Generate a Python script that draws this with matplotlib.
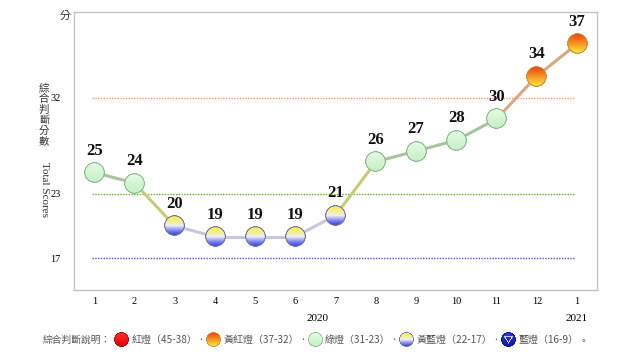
import numpy as np
import matplotlib.pyplot as plt
from matplotlib.offsetbox import OffsetImage, AnnotationBbox

plt.rcParams['font.family'] = ['Liberation Serif', 'Noto Sans CJK TC', 'DejaVu Sans']

# data
months = ['1', '2', '3', '4', '5', '6', '7', '8', '9', '10', '11', '12', '1']
scores = [25, 24, 20, 19, 19, 19, 21, 26, 27, 28, 30, 34, 37]
ref_lines = [(32, '#f0a070'), (23, '#60b040'), (17, '#5050d0')]
yticks = [17, 23, 32]
legend_labels = ['紅燈（45-38）', '黃紅燈（37-32）', '綠燈（31-23）', '黃藍燈（22-17）', '藍燈（16-9）']
legend_kinds = ['red', 'orange', 'green', 'yb', 'blue']


def light(v):
    if v >= 38:
        return 'red'
    if v >= 32:
        return 'orange'
    if v >= 23:
        return 'green'
    if v >= 17:
        return 'yb'
    return 'blue'


seg_color = {
    ('green', 'green'): '#a8c49c',
    ('green', 'yb'): '#c8cc70',
    ('yb', 'green'): '#c8cc70',
    ('yb', 'yb'): '#c8c8dc',
    ('green', 'orange'): '#d8a880',
    ('orange', 'orange'): '#d8a880',
}

# gradient stops (top -> bottom) and edge colour per light
grad = {
    'green': ([(0, '#e6fbe6'), (1, '#c4eec4')], '#8cbc8c'),
    'yb': ([(0, '#f6f040'), (0.3, '#f4f090'), (0.5, '#eeeef4'), (0.72, '#8890f0'), (1, '#2030d8')], '#7878a8'),
    'orange': ([(0, '#e83c10'), (0.45, '#f88c20'), (1, '#fff040')], '#c89040'),
    'red': ([(0, '#ff3030'), (1, '#e00000')], '#b80000'),
    'blue': ([(0, '#3040e0'), (1, '#0a14a8')], '#081070'),
}


def hex_rgb(h):
    return np.array([int(h[i:i + 2], 16) / 255 for i in (1, 3, 5)])


def light_image(kind, n=64):
    stops, edge = grad[kind]
    u, v = np.meshgrid(np.linspace(-1, 1, n), np.linspace(-1, 1, n))
    d = np.sqrt(u ** 2 + v ** 2)
    t = (v + 1) / 2
    pos = [s[0] for s in stops]
    cols = np.array([hex_rgb(s[1]) for s in stops])
    rgb = np.stack([np.interp(t, pos, cols[:, k]) for k in range(3)], axis=-1)
    ring = np.clip((d - 0.86) / 0.06, 0, 1)[..., None]
    rgb = rgb * (1 - ring) + hex_rgb(edge) * ring
    if kind == 'blue':
        # white outlined down-triangle
        top, bot = -0.42, 0.55
        half = (bot - v) / (bot - top) * 0.62
        inside_outer = (v >= top) & (v <= bot) & (np.abs(u) <= half)
        half_in = (bot - 0.2 - v) / (bot - 0.2 - top - 0.1) * 0.42
        inside_inner = (v >= top + 0.1) & (v <= bot - 0.2) & (np.abs(u) <= half_in)
        rgb[inside_outer & ~inside_inner] = 1.0
    alpha = np.clip((1 - d) * n / 2 + 0.5, 0, 1)
    return np.dstack([rgb, alpha])


images = {k: light_image(k) for k in grad}


def draw_light(ax, x, y, kind, size_px=21, zorder=5):
    img = images[kind]
    oi = OffsetImage(img, zoom=size_px / img.shape[0], dpi_cor=False, interpolation='bilinear')
    ab = AnnotationBbox(oi, (x, y), frameon=False, pad=0, zorder=zorder,
                        annotation_clip=False)
    ax.add_artist(ab)


fig = plt.figure(figsize=(6.4, 3.6), dpi=100)
ax = fig.add_axes([0.116, 0.194, 0.817, 0.773])

xs = list(range(1, len(scores) + 1))
kinds = [light(v) for v in scores]

for y, c in ref_lines:
    ax.plot([0.95, 12.95], [y, y], ls=(0, (1, 1)), color=c, lw=1.0, zorder=1)

for i in range(len(xs) - 1):
    c = seg_color.get((kinds[i], kinds[i + 1]), '#c0c0c0')
    ax.plot(xs[i:i + 2], scores[i:i + 2], color=c, lw=2.2, zorder=2, solid_capstyle='round')

for x, y, k in zip(xs, scores, kinds):
    draw_light(ax, x, y, k)
    ax.annotate(str(y), (x, y), xytext=(0, 10), textcoords='offset points',
                ha='center', va='bottom', fontsize=12, fontweight='bold', color='#111111')

ax.set_xlim(0.5, 13.5)
ax.set_ylim(14, 40)
ax.set_xticks(xs)
ax.set_xticklabels(months, fontsize=7.5)
ax.set_yticks(yticks)
ax.set_yticklabels([str(t) for t in yticks], fontsize=7.5)
ax.tick_params(length=0, pad=5)
ax.tick_params(axis='y', pad=10)
for s in ax.spines.values():
    s.set_color('#c4c4c4')
    s.set_linewidth(1.0)

ax.text(6.54, -0.085, '2020', transform=ax.get_xaxis_transform(), ha='center', va='top', fontsize=8)
ax.text(13, -0.085, '2021', transform=ax.get_xaxis_transform(), ha='center', va='top', fontsize=8)

fig.text(65 / 640, 1 - 16 / 360, '分', ha='center', va='center', fontsize=8,
         family=['Noto Sans CJK TC'], color='#333333')
fig.text(44 / 640, 1 - 115 / 360, '\n'.join('綜合判斷分數'), ha='center', va='center',
         fontsize=7.5, family=['Noto Sans CJK TC'], linespacing=1.05, color='#333333')
fig.text(44 / 640, 1 - 190 / 360, 'Total Scores', ha='center', va='center',
         rotation=-90, fontsize=8, color='#333333')

# legend row, laid out left to right in pixel units
lax = fig.add_axes([0, 0, 1, 0.12])
lax.set_xlim(0, 640)
lax.set_ylim(0, 43.2)
lax.axis('off')
ly = 43.2 - (340 - 316.8)
leg_font = ['Noto Sans CJK TC', 'DejaVu Sans']
renderer = fig.canvas.get_renderer()
inv = lax.transData.inverted()


def put(x, s, size=7):
    t = lax.text(x, ly, s, ha='left', va='center', fontsize=size, family=leg_font, color='#555555')
    bb = t.get_window_extent(renderer)
    return inv.transform((bb.x1, bb.y0))[0]


cur = put(43, '綜合判斷說明：') + 3
r = 7.5
for i, (k, label) in enumerate(zip(legend_kinds, legend_labels)):
    cx = cur + r
    draw_light(lax, cx, ly, k, size_px=2 * r)
    cur = put(cx + r + 2, label, size=7.2)
    if i < len(legend_kinds) - 1:
        cur = put(cur, '•', size=5) + 2
    else:
        put(cur, '。')

fig.savefig('out.png', dpi=100)
